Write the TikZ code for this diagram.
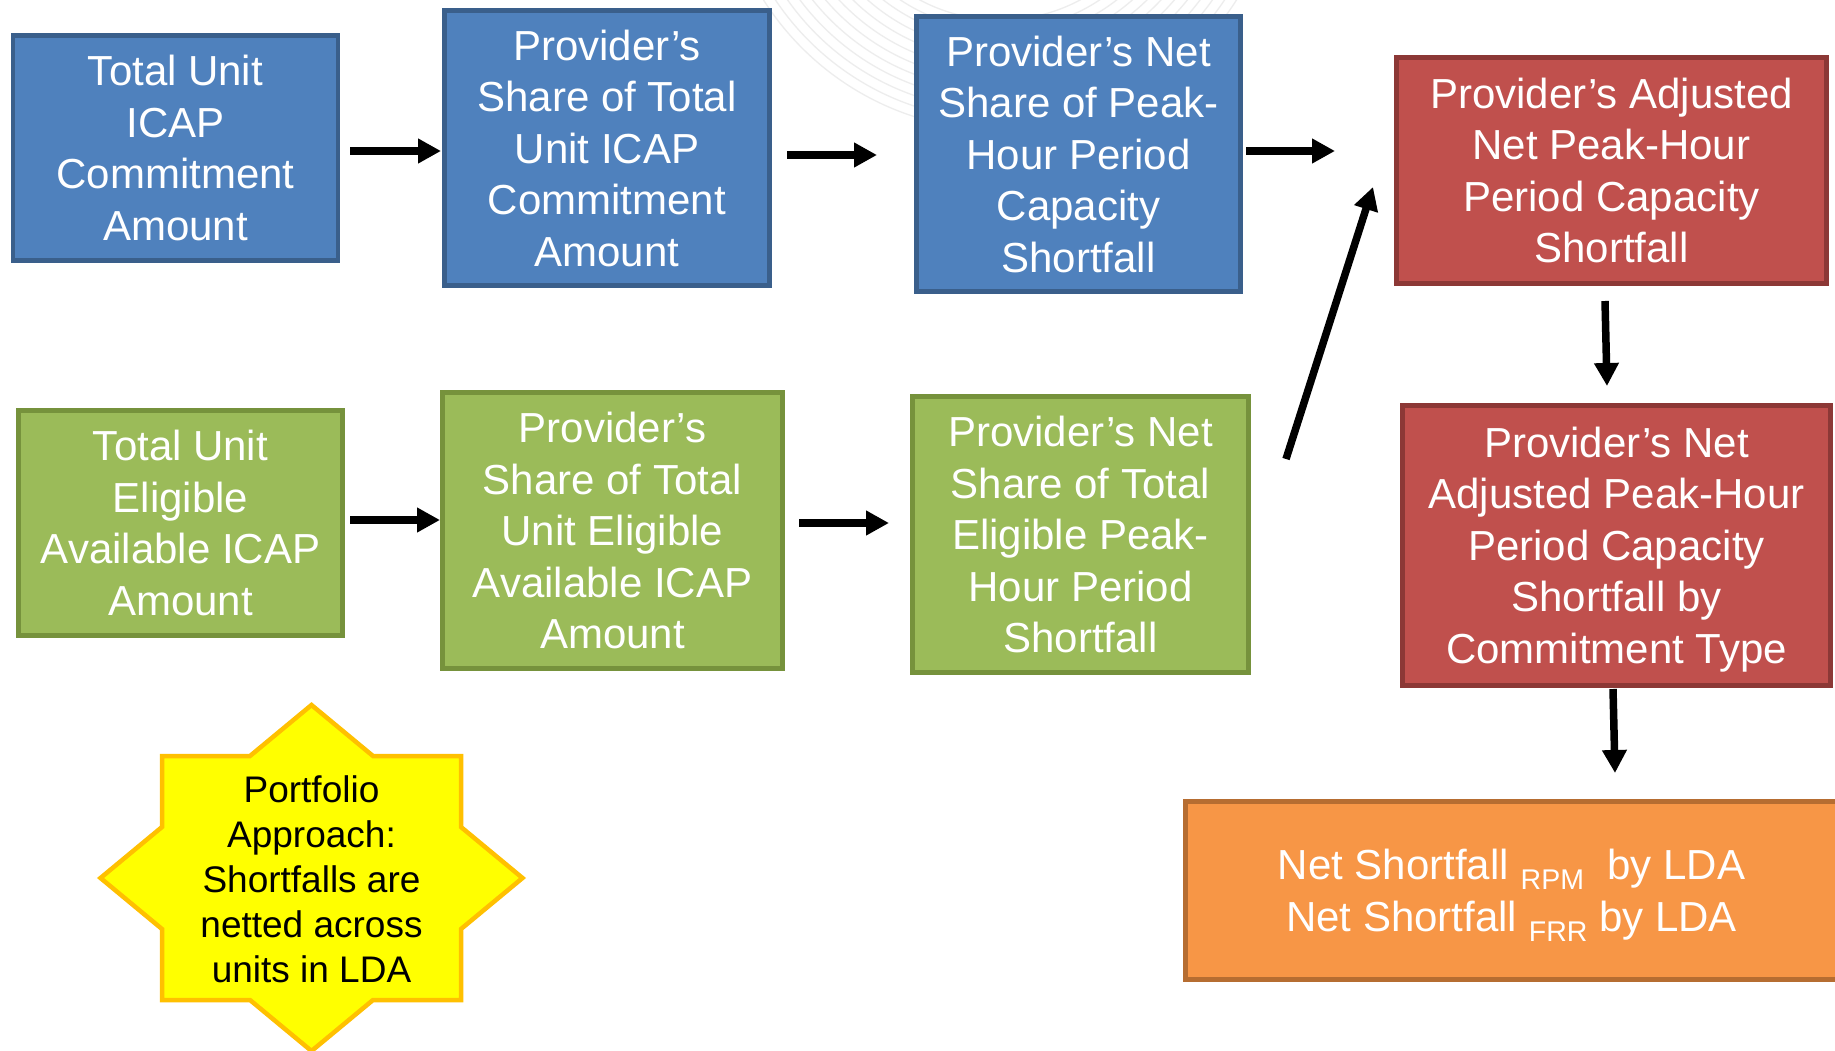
\documentclass[tikz,border=0pt]{standalone}
\usepackage{fontspec}
\setmainfont{Liberation Sans}
\usetikzlibrary{arrows.meta}

\definecolor{bluefill}{HTML}{4F81BD}
\definecolor{blueline}{HTML}{3A5F8B}
\definecolor{greenfill}{HTML}{9BBB59}
\definecolor{greenline}{HTML}{76923C}
\definecolor{redfill}{HTML}{C0504D}
\definecolor{redline}{HTML}{8C3836}
\definecolor{orangefill}{HTML}{F79646}
\definecolor{orangeline}{HTML}{B66D31}
\definecolor{starfill}{HTML}{FFFF00}
\definecolor{starline}{HTML}{FFC000}

% lowered subscript used in the result box (kept out of the line depth)
\newcommand{\lowsub}[1]{\smash{\raisebox{-10pt}{\fontsize{28.5}{28.5}\selectfont #1}}}
% extra room above the first line, to set a text block slightly lower
\newcommand{\topstrut}{\rule{0pt}{38.5pt}}

\tikzset{
  box/.style={rectangle, line width=4.5pt, text=white, align=center,
    inner sep=0pt, font=\fontsize{42}{51.5}\selectfont},
  bluebox/.style={box, fill=bluefill, draw=blueline},
  greenbox/.style={box, fill=greenfill, draw=greenline},
  redbox/.style={box, fill=redfill, draw=redline},
  orangebox/.style={box, fill=orangefill, draw=orangeline},
  starbody/.style={fill=starfill, draw=starline, line width=4.5pt, line join=miter},
  startext/.style={text=black, align=center, inner sep=0pt,
    font=\fontsize{37}{45}\selectfont},
  flow/.style={line width=7.5pt, -{Triangle[length=23pt,width=23.5pt]}},
  watermark/.style={draw=black!7, line width=1.3pt}
}

\begin{document}
\begin{tikzpicture}[x=1pt,y=-1pt]
\useasboundingbox (0,0) rectangle (1835,1051);
\fill[white] (0,0) rectangle (1835,1051);

% faint background rings
\foreach \rr in {170,180,...,280}
  \draw[watermark] (1000,-150) ++(180:\rr) arc (180:0:\rr);

% upper row: commitment amounts
\node[bluebox, minimum width=325pt, minimum height=225pt] (tuicap) at (175.5,148)
  {Total Unit\\ICAP\\Commitment\\Amount};
\node[bluebox, minimum width=325pt, minimum height=275pt] (shareicap) at (607,148)
  {Provider’s\\Share of Total\\Unit ICAP\\Commitment\\Amount};
\node[bluebox, minimum width=324pt, minimum height=275pt] (netshare) at (1078.5,154)
  {Provider’s Net\\Share of Peak-\\Hour Period\\Capacity\\Shortfall};

% lower row: eligible available amounts
\node[greenbox, minimum width=324pt, minimum height=225pt] (tueligible) at (180.5,523)
  {Total Unit\\Eligible\\Available ICAP\\Amount};
\node[greenbox, minimum width=340pt, minimum height=276pt] (shareeligible) at (612.5,530.5)
  {Provider’s\\Share of Total\\Unit Eligible\\Available ICAP\\Amount};
\node[greenbox, minimum width=336pt, minimum height=276pt] (neteligible) at (1080.5,534.5)
  {Provider’s Net\\Share of Total\\Eligible Peak-\\Hour Period\\Shortfall};

% right column: adjusted shortfall and result
\node[redbox, minimum width=430pt, minimum height=226pt] (adjusted) at (1611.5,170.5)
  {Provider’s Adjusted\\Net Peak-Hour\\Period Capacity\\Shortfall};
\node[redbox, minimum width=428pt, minimum height=280pt] (bytype) at (1616.5,545.5)
  {\topstrut Provider’s Net\\Adjusted Peak-Hour\\Period Capacity\\Shortfall by\\Commitment Type};
\node[orangebox, minimum width=652pt, minimum height=178pt] (result) at (1511.5,890.5)
  {\topstrut Net Shortfall \lowsub{RPM}\ \ by LDA\\Net Shortfall \lowsub{FRR} by LDA};

% eight-pointed note
\draw[starbody, shift={(311.5,878)}]
  (0,-173) -- (61.5,-122) -- (149.5,-122) -- (149.5,-51) -- (211,0)
  -- (149.5,51) -- (149.5,122) -- (61.5,122) -- (0,173)
  -- (-61.5,122) -- (-149.5,122) -- (-149.5,51) -- (-211,0)
  -- (-149.5,-51) -- (-149.5,-122) -- (-61.5,-122) -- cycle;
\node[startext] (note) at (311.5,879)
  {Portfolio\\Approach:\\Shortfalls are\\netted across\\units in LDA};

% connector end points
\coordinate (a1s) at (350,151);   \coordinate (a1e) at (441,151);
\coordinate (a2s) at (787,155);   \coordinate (a2e) at (877,155);
\coordinate (a3s) at (1246,151);  \coordinate (a3e) at (1335,151);
\coordinate (a4s) at (350,520);   \coordinate (a4e) at (440,520);
\coordinate (a5s) at (799,523);   \coordinate (a5e) at (889,523);
\coordinate (a6s) at (1286,459);  \coordinate (a6e) at (1373,187);
\coordinate (a7s) at (1605,301);  \coordinate (a7e) at (1607,386);
\coordinate (a8s) at (1613,689);  \coordinate (a8e) at (1615,773);

\draw[flow] (a1s) -- (a1e);
\draw[flow] (a2s) -- (a2e);
\draw[flow] (a3s) -- (a3e);
\draw[flow] (a4s) -- (a4e);
\draw[flow] (a5s) -- (a5e);
\draw[flow] (a6s) -- (a6e);
\draw[flow] (a7s) -- (a7e);
\draw[flow] (a8s) -- (a8e);
\end{tikzpicture}
\end{document}
